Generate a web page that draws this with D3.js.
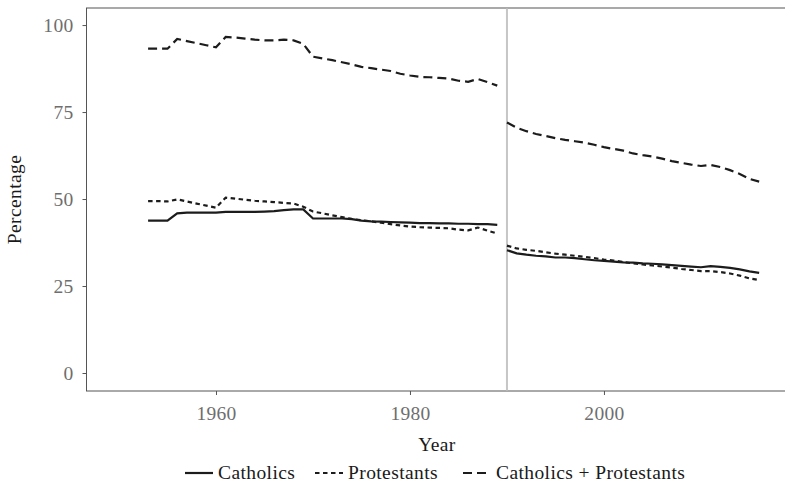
<!DOCTYPE html>
<html lang="en">
<head>
    <meta charset="UTF-8">
    <title>Catholics and Protestants</title>
    <script src="https://d3js.org/d3.v7.min.js"></script>
    <style>
        body{
            margin: 0;
            background: #fff;
        }
        text {
            font-family: 'Liberation Serif', serif;
        }
        .tick text {
            fill: #6e6e6e;
            font-size: 19.5px;
            letter-spacing: 0.3px;
        }
        .axis-title, .legend text {
            fill: #1a1a1a;
            font-size: 19.5px;
            letter-spacing: 0.4px;
        }
    </style>
</head>
<body>
    <svg id="chart"></svg>

    <script>
        // Data: 1953-1989 and 1990-2016
        const years = d3.range(1953, 2017);
        const breakYear = 1990;

        const catholics = [
            43.8, 43.8, 43.8, 45.9, 46.1, 46.1, 46.1, 46.1, 46.3, 46.3,
            46.3, 46.3, 46.4, 46.5, 46.8, 47.0, 47.0, 44.4, 44.4, 44.4,
            44.4, 44.2, 43.8, 43.6, 43.5, 43.4, 43.3, 43.2, 43.1, 43.1,
            43.0, 43.0, 42.9, 42.9, 42.8, 42.8, 42.6,
            35.3, 34.4, 34.0, 33.7, 33.5, 33.2, 33.2, 33.0, 32.7, 32.4,
            32.2, 32.0, 31.8, 31.7, 31.5, 31.4, 31.2, 31.0, 30.8, 30.6,
            30.4, 30.7, 30.5, 30.2, 29.8, 29.2, 28.8
        ];
        const protestants = [
            49.4, 49.4, 49.3, 49.9, 49.3, 48.7, 48.1, 47.5, 50.4, 50.1,
            49.8, 49.5, 49.3, 49.1, 48.9, 48.7, 47.8, 46.4, 45.9, 45.3,
            44.8, 44.3, 43.9, 43.6, 43.2, 42.8, 42.4, 42.1, 41.9, 41.8,
            41.7, 41.6, 41.2, 41.0, 41.8, 40.9, 40.1,
            36.6, 35.8, 35.4, 35.1, 34.7, 34.3, 34.0, 33.7, 33.4, 33.0,
            32.6, 32.3, 31.9, 31.5, 31.2, 30.9, 30.6, 30.3, 29.9, 29.6,
            29.3, 29.3, 29.0, 28.6, 28.0, 27.2, 26.7
        ];
        const combined = [
            93.2, 93.2, 93.2, 96.0, 95.4, 94.8, 94.2, 93.6, 96.6, 96.4,
            96.1, 95.8, 95.6, 95.6, 95.8, 95.6, 94.6, 90.9, 90.4, 89.9,
            89.3, 88.7, 88.0, 87.6, 87.2, 86.8, 86.0, 85.5, 85.1, 85.0,
            84.8, 84.6, 84.0, 83.7, 84.5, 83.6, 82.6,
            72.0, 70.5, 69.5, 68.7, 68.1, 67.5, 67.0, 66.6, 66.2, 65.6,
            64.9, 64.4, 63.9, 63.1, 62.6, 62.2, 61.6, 60.9, 60.4, 59.9,
            59.5, 59.8, 59.2, 58.3, 57.2, 55.8, 55.0
        ];

        const seriesNames = ["Catholics", "Protestants", "Catholics + Protestants"];
        const seriesValues = [catholics, protestants, combined];
        const dashes = [null, "4.5,3.5", "9,5"];

        const xTicks = [1960, 1980, 2000];
        const yTicks = [0, 25, 50, 75, 100];

        const width = 785, height = 486;
        // the panel runs past the right edge of the picture
        const panel = {left: 86.5, right: 790, top: 8, bottom: 391};

        const svg = d3.select("#chart")
            .attr("width", width)
            .attr("height", height);

        const x = d3.scaleLinear().domain([1946.65, 2019.18]).range([panel.left, panel.right]);
        const y = d3.scaleLinear().domain([-5.17, 104.9]).range([panel.bottom, panel.top]);

        // Panel border
        svg.append("rect")
            .attr("x", panel.left).attr("y", panel.top)
            .attr("width", panel.right - panel.left).attr("height", panel.bottom - panel.top)
            .attr("fill", "none")
            .attr("stroke", "#555")
            .attr("stroke-width", 1);

        // Break marker at 1990
        svg.append("line")
            .attr("x1", x(breakYear)).attr("x2", x(breakYear))
            .attr("y1", panel.top + 0.5).attr("y2", panel.bottom - 0.5)
            .attr("stroke", "#c6c6c6")
            .attr("stroke-width", 2);

        // Axes
        const xAxis = svg.append("g")
            .attr("transform", `translate(0,${panel.bottom})`)
            .call(d3.axisBottom(x).tickValues(xTicks).tickFormat(d3.format("d")).tickSize(4).tickPadding(6));
        const yAxis = svg.append("g")
            .attr("transform", `translate(${panel.left},0)`)
            .call(d3.axisLeft(y).tickValues(yTicks).tickSize(4).tickPadding(9));
        [xAxis, yAxis].forEach(a => {
            a.select(".domain").remove();
            a.selectAll(".tick line").attr("stroke", "#555");
        });
        xAxis.selectAll(".tick text").attr("dy", "0.95em");

        // Lines, one path for each period
        const line = d3.line()
            .x(d => x(d.year))
            .y(d => y(d.value));

        seriesValues.forEach((vals, i) => {
            const pts = years.map((yr, j) => ({year: yr, value: vals[j]}));
            const parts = [pts.filter(d => d.year < breakYear), pts.filter(d => d.year >= breakYear)];
            parts.forEach(p => {
                svg.append("path")
                    .datum(p)
                    .attr("d", line)
                    .attr("fill", "none")
                    .attr("stroke", "#1c1c1c")
                    .attr("stroke-width", 2.2)
                    .attr("stroke-dasharray", dashes[i]);
            });
        });

        // Axis titles
        svg.append("text")
            .attr("class", "axis-title")
            .attr("x", 437)
            .attr("y", 451)
            .attr("text-anchor", "middle")
            .text("Year");
        svg.append("text")
            .attr("class", "axis-title")
            .attr("transform", `translate(21,${(panel.top + panel.bottom) / 2}) rotate(-90)`)
            .attr("text-anchor", "middle")
            .text("Percentage");

        // Legend
        const legendX = [185, 315, 463];
        const legend = svg.append("g").attr("class", "legend");
        seriesNames.forEach((name, i) => {
            const g = legend.append("g").attr("transform", `translate(${legendX[i]},473)`);
            g.append("line")
                .attr("x1", 0).attr("x2", 28)
                .attr("stroke", "#1c1c1c")
                .attr("stroke-width", 2.2)
                .attr("stroke-dasharray", dashes[i]);
            g.append("text")
                .attr("x", 33)
                .attr("dy", "0.33em")
                .text(name);
        });
    </script>
</body>
</html>
